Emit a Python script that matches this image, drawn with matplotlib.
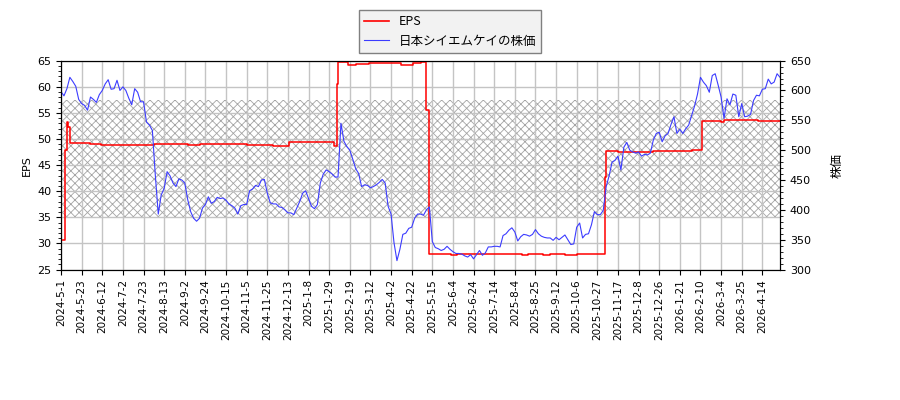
import matplotlib
matplotlib.use("Agg")
import matplotlib.pyplot as plt
import numpy as np
from matplotlib.ticker import MultipleLocator
from matplotlib.lines import Line2D

# ---- data ----
tick_labels = ["2024-5-1", "2024-5-23", "2024-6-12", "2024-7-2", "2024-7-23", "2024-8-13",
               "2024-9-2", "2024-9-24", "2024-10-15", "2024-11-5", "2024-11-25", "2024-12-13",
               "2025-1-8", "2025-1-29", "2025-2-19", "2025-3-12", "2025-4-2", "2025-4-22",
               "2025-5-15", "2025-6-4", "2025-6-24", "2025-7-14", "2025-8-4", "2025-8-25",
               "2025-9-12", "2025-10-6", "2025-10-27", "2025-11-17", "2025-12-8", "2025-12-26",
               "2026-1-21", "2026-2-10", "2026-3-4", "2026-3-25", "2026-4-14"]
tick_every = 14          # trading days between labelled ticks
last_day = 488           # trading-day index of last observation

# stock price (yen), sampled every 2 trading days, plus the last day
prices = [598, 591, 603, 622, 615, 607, 585, 578, 575, 567,
          589, 585, 580, 593, 600, 611, 618, 602, 603, 617,
          600, 606, 600, 587, 576, 603, 597, 581, 581, 547,
          542, 533, 458, 393, 425, 436, 464, 457, 445, 439,
          452, 450, 445, 417, 397, 386, 381, 386, 403, 409,
          422, 411, 414, 421, 419, 420, 416, 410, 407, 403,
          393, 407,
          409, 409, 432, 435, 441, 439, 450, 451, 428, 412,
          410, 410, 405, 404, 400, 395, 395, 392, 403, 414,
          428, 432, 419, 406, 402, 409, 445, 460, 467, 464,
          460, 455, 455, 545, 515, 506, 500, 485, 469, 461,
          439, 442, 441, 437, 439, 442, 446, 451, 445, 406,
          393, 345, 315, 334, 359, 361, 369, 371, 386, 393,
          393,
          391, 400, 405, 347, 337, 335, 332, 334, 339, 334,
          330, 327, 327, 326, 323, 321, 325, 318, 325, 332,
          324, 328, 338, 338, 339, 339, 338, 357, 360, 366,
          370, 363, 348, 355, 359, 358, 356, 359, 367, 360,
          356, 354, 353, 353, 349, 354, 350, 354, 358, 350,
          342, 343, 371, 378, 353, 359, 360, 375, 397, 392,
          392,
          399, 439, 457, 480, 483, 490, 467, 505, 513, 500,
          497, 495, 497, 490, 493, 492, 495, 517, 528, 530,
          514, 524, 528, 543, 556, 528, 535, 528, 536, 542,
          558, 574, 594, 622, 614, 608, 597, 625, 628, 609,
          589, 553, 586, 576, 594, 592, 556, 578, 556, 557,
          560, 583, 592, 591, 602, 603, 619, 611, 614, 628,
          622]
price_days = list(range(0, last_day, 2)) + [last_day]

# EPS (step series): trading-day index where value changes, and value
eps_days = [0, 3, 4, 5, 6, 20, 27, 41, 63, 86,
            94, 126, 144, 155, 185, 187, 188, 195, 200, 209,
            231, 239, 244, 248, 250, 265, 269, 313, 317, 327,
            332, 342, 350, 369, 370, 378, 387, 394, 402, 416,
            428, 435, 448, 450, 473, 488]
eps_vals = [30.7, 47.9, 53.3, 52.3, 49.3, 49.0, 48.8, 48.9, 49.1, 48.8,
            49.1, 48.9, 48.75, 49.35, 48.7, 60.5, 64.75, 64.1, 64.3, 64.45,
            64.1, 64.45, 64.75, 55.5, 28.0, 27.8, 28.0, 27.8, 28.0, 27.8,
            28.0, 27.8, 28.0, 42.8, 47.75, 47.6, 47.5, 47.6, 47.65, 47.75,
            47.9, 53.5, 53.2, 53.6, 53.35, 53.35]

band_low, band_high = 35, 57.5

# ---- plot ----
plt.rcParams["hatch.linewidth"] = 0.6
jp = ["Noto Sans CJK JP", "DejaVu Sans"]
fig = plt.figure(figsize=(9, 4), dpi=100)
ax1 = fig.add_axes([0.0678, 0.326, 0.7989, 0.5225])
ax2 = ax1.twinx()

ax1.axhspan(band_low, band_high, facecolor="none", edgecolor="#a4a4a4",
            hatch="xxxx", linewidth=0, zorder=0.8)
ax1.grid(True, color="#c4c4c4", linewidth=1.0)

ax1.step(eps_days, eps_vals, where="post", color="#ff0000", linewidth=1.1, zorder=3)
ax2.plot(price_days, prices, color="#3c3cff", linewidth=0.8)

ax1.set_xlim(0, last_day)
ax1.set_ylim(25, 65)
ax2.set_ylim(300, 650)

ax1.set_xticks(np.arange(len(tick_labels)) * tick_every)
ax1.set_xticklabels(tick_labels, rotation=90, fontsize=7.5)
ax1.yaxis.set_major_locator(MultipleLocator(5))
ax1.yaxis.set_minor_locator(MultipleLocator(1))
ax2.yaxis.set_major_locator(MultipleLocator(50))
ax2.yaxis.set_minor_locator(MultipleLocator(10))
ax1.tick_params(axis="y", labelsize=8)
ax2.tick_params(axis="y", labelsize=8)

ax1.set_ylabel("EPS", fontsize=8)
ax2.set_ylabel("株価", fontsize=9, family=jp, labelpad=14)

handles = [Line2D([], [], color="#ff0000", linewidth=1.2),
           Line2D([], [], color="#3c3cff", linewidth=0.8)]
leg = fig.legend(handles, ["EPS", "日本シイエムケイの株価"], loc="upper center",
                 bbox_to_anchor=(0.5, 0.99), fancybox=False, framealpha=1,
                 edgecolor="#808080", facecolor="#f2f2f2", prop={"family": jp, "size": 9})

fig.savefig("out.png", dpi=100)
